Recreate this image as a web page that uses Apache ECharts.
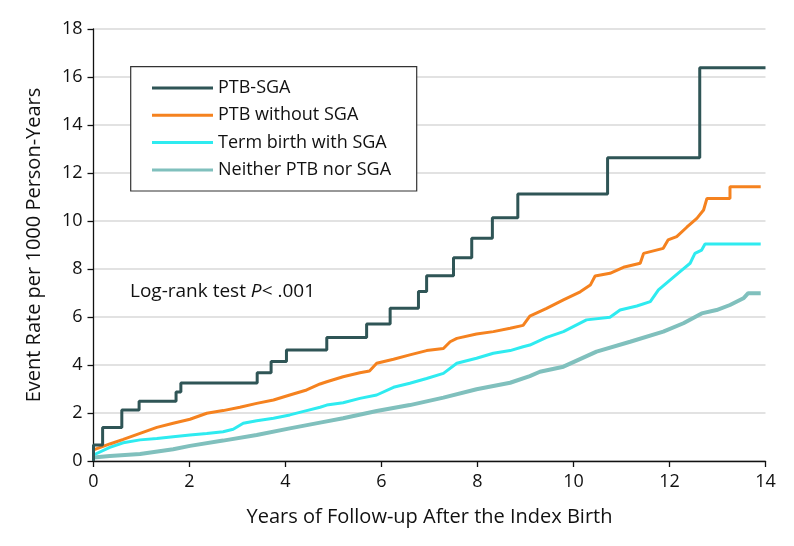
<!DOCTYPE html>
<html>
<head>
<meta charset="utf-8">
<script src="https://cdn.jsdelivr.net/npm/echarts@6/dist/echarts.min.js"></script>
<style>html,body{margin:0;padding:0;background:#fff}#c{width:794px;height:546px}</style>
</head>
<body>
<div id="c"></div>
<script>
const seriesNames = ['PTB-SGA', 'PTB without SGA', 'Term birth with SGA', 'Neither PTB nor SGA'];
const xTicks = [0, 2, 4, 6, 8, 10, 12, 14];
const yTicks = [0, 2, 4, 6, 8, 10, 12, 14, 16, 18];

// PTB-SGA: times at which the step curve jumps, and the value after the jump
const ptbSgaYears = [0, 0, 0.19, 0.59, 0.95, 1.72, 1.82, 3.41, 3.70, 4.02, 4.86, 5.69, 6.18, 6.77, 6.94, 7.50, 7.88, 8.31, 8.84, 10.71, 12.63, 14];
const ptbSgaRate  = [0, 0.67, 1.40, 2.12, 2.49, 2.87, 3.25, 3.68, 4.15, 4.62, 5.15, 5.71, 6.36, 7.06, 7.72, 8.47, 9.28, 10.14, 11.13, 12.64, 16.39, 16.39];

const ptbYears = [0, 0, 0.34, 0.62, 0.97, 1.32, 1.66, 2.01, 2.36, 2.70, 3.05, 3.40, 3.75, 4.09, 4.44, 4.72, 4.86, 5.20, 5.55, 5.75, 5.90, 6.25, 6.59, 6.94, 7.29, 7.43, 7.57, 7.98, 8.33, 8.68, 8.95, 9.09, 9.44, 9.79, 10.14, 10.35, 10.45, 10.76, 11.04, 11.39, 11.46, 11.87, 11.97, 12.15, 12.36, 12.57, 12.71, 12.78, 13.26, 13.26, 13.90];
const ptbRate  = [0, 0.46, 0.71, 0.90, 1.15, 1.40, 1.57, 1.74, 1.99, 2.10, 2.24, 2.40, 2.54, 2.75, 2.96, 3.21, 3.30, 3.51, 3.68, 3.75, 4.07, 4.24, 4.42, 4.60, 4.69, 4.97, 5.11, 5.29, 5.39, 5.53, 5.65, 6.04, 6.36, 6.71, 7.05, 7.33, 7.71, 7.82, 8.07, 8.24, 8.65, 8.86, 9.21, 9.35, 9.74, 10.11, 10.46, 10.94, 10.94, 11.43, 11.43];

const sgaYears = [0, 0, 0.34, 0.62, 0.97, 1.32, 1.66, 2.01, 2.36, 2.70, 2.91, 3.12, 3.40, 3.75, 4.09, 4.44, 4.72, 4.86, 5.20, 5.55, 5.90, 6.25, 6.59, 6.94, 7.29, 7.57, 7.98, 8.33, 8.68, 8.95, 9.09, 9.44, 9.79, 10.27, 10.76, 10.97, 11.32, 11.60, 11.77, 12.01, 12.22, 12.43, 12.53, 12.67, 12.74, 13.90];
const sgaRate  = [0, 0.25, 0.57, 0.76, 0.88, 0.94, 1.01, 1.08, 1.15, 1.22, 1.32, 1.57, 1.68, 1.78, 1.92, 2.10, 2.24, 2.33, 2.43, 2.61, 2.75, 3.07, 3.24, 3.44, 3.65, 4.07, 4.28, 4.49, 4.60, 4.76, 4.83, 5.15, 5.39, 5.88, 5.99, 6.29, 6.46, 6.64, 7.13, 7.54, 7.89, 8.24, 8.65, 8.79, 9.04, 9.04];

const neitherYears = [0, 0.34, 0.97, 1.66, 2.01, 2.70, 3.40, 4.09, 4.72, 5.20, 5.90, 6.59, 7.29, 7.98, 8.68, 9.09, 9.30, 9.79, 10.48, 11.18, 11.87, 12.29, 12.67, 12.98, 13.26, 13.54, 13.64, 13.90];
const neitherRate  = [0.15, 0.21, 0.29, 0.49, 0.63, 0.85, 1.08, 1.36, 1.60, 1.78, 2.08, 2.33, 2.64, 2.99, 3.26, 3.54, 3.72, 3.93, 4.56, 4.97, 5.39, 5.74, 6.15, 6.29, 6.50, 6.78, 6.99, 6.99];

const zip = (a, b) => a.map((x, i) => [x, b[i]]);
const FONT = '"Open Sans", "Liberation Sans", sans-serif';
const colors = ['#2f5556', '#f5821f', '#2eebf0', '#80c0bd'];

const chart = echarts.init(document.getElementById('c'), null, { renderer: 'canvas' });
chart.setOption({
  animation: false,
  backgroundColor: '#fff',
  textStyle: { fontFamily: FONT, color: '#111' },
  grid: { left: 93.5, right: 28.5, top: 29, bottom: 85, containLabel: false },
  xAxis: {
    type: 'value', min: xTicks[0], max: xTicks[xTicks.length - 1], interval: 2,
    name: 'Years of Follow-up After the Index Birth',
    nameLocation: 'middle', nameGap: 46,
    nameTextStyle: { fontSize: 20, color: '#111', fontFamily: FONT },
    axisLine: { show: true, lineStyle: { color: '#111', width: 1.3 } },
    axisTick: { show: true, length: 6, lineStyle: { color: '#111', width: 1.3 } },
    axisLabel: { fontSize: 18, margin: 12, color: '#111', fontFamily: FONT },
    splitLine: { show: false }
  },
  yAxis: {
    type: 'value', min: yTicks[0], max: yTicks[yTicks.length - 1], interval: 2,
    name: 'Event Rate per 1000 Person-Years',
    nameLocation: 'middle', nameGap: 49,
    nameTextStyle: { fontSize: 20, color: '#111', fontFamily: FONT },
    axisLine: { show: true, lineStyle: { color: '#111', width: 1.3 } },
    axisTick: { show: true, length: 6, lineStyle: { color: '#111', width: 1.3 } },
    axisLabel: { fontSize: 18, margin: 11, color: '#111', fontFamily: FONT },
    splitLine: { show: true, lineStyle: { color: '#d9d9d9', width: 1.5 } }
  },
  legend: {
    orient: 'vertical', left: 152, top: 79, padding: 0,
    icon: 'rect', itemWidth: 61, itemHeight: 3, itemGap: 9.3,
    data: seriesNames,
    textStyle: { fontSize: 18, lineHeight: 18, color: '#111', fontFamily: FONT },
    selectedMode: false, z: 10
  },
  graphic: [
    { type: 'rect', z: 5, shape: { x: 130.7, y: 66.7, width: 286, height: 124.3 },
      style: { fill: '#fff', stroke: '#333', lineWidth: 1.2 } },
    { type: 'text', z: 5, left: 130, top: 282,
      style: {
        text: '{a|Log-rank test }{b|P}{a|< .001}',
        rich: {
          a: { fontSize: 19, fontFamily: FONT, fill: '#111' },
          b: { fontSize: 19, fontFamily: FONT, fontStyle: 'italic', fill: '#111' }
        }
      } }
  ],
  series: [
    { name: seriesNames[0], type: 'line', step: 'end', symbol: 'none', data: zip(ptbSgaYears, ptbSgaRate),
      lineStyle: { color: colors[0], width: 3 }, itemStyle: { color: colors[0] }, z: 6 },
    { name: seriesNames[1], type: 'line', symbol: 'none', data: zip(ptbYears, ptbRate),
      lineStyle: { color: colors[1], width: 3 }, itemStyle: { color: colors[1] }, z: 4 },
    { name: seriesNames[2], type: 'line', symbol: 'none', data: zip(sgaYears, sgaRate),
      lineStyle: { color: colors[2], width: 3 }, itemStyle: { color: colors[2] }, z: 3 },
    { name: seriesNames[3], type: 'line', symbol: 'none', data: zip(neitherYears, neitherRate),
      lineStyle: { color: colors[3], width: 4 }, itemStyle: { color: colors[3] }, z: 2 }
  ]
});
</script>
</body>
</html>
